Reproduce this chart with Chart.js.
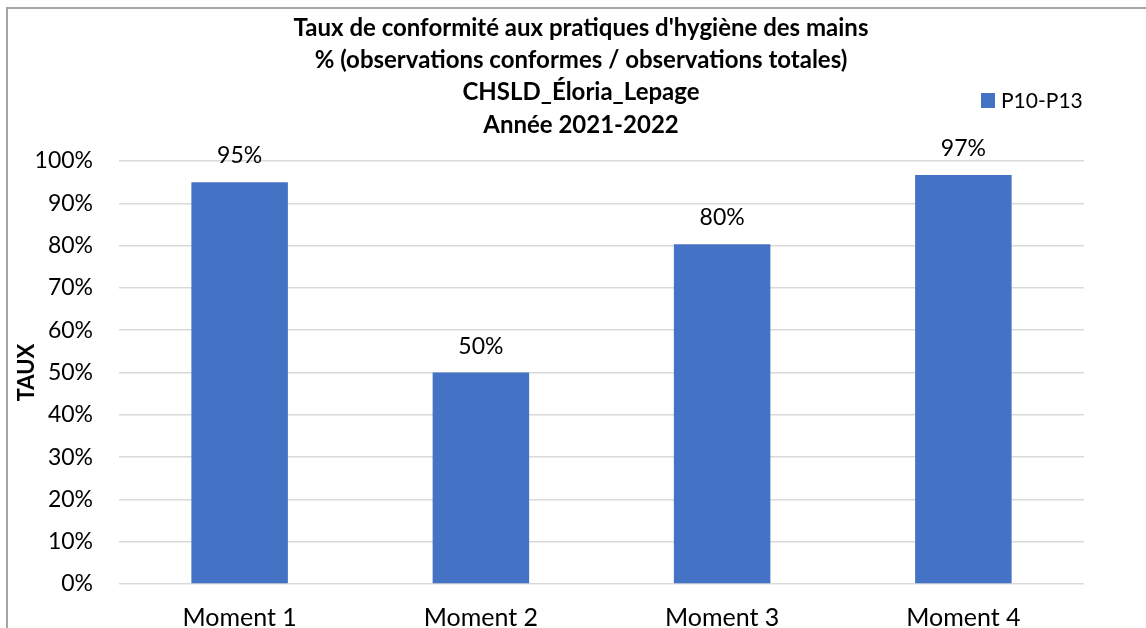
<!DOCTYPE html>
<html>
<head>
<meta charset="utf-8">
<script src="https://cdn.jsdelivr.net/npm/chart.js@4"></script>
<style>
  html, body { margin: 0; padding: 0; background: #fff; overflow: hidden; }
  #wrap { position: relative; width: 1146px; height: 628px; }
</style>
</head>
<body>
<div id="wrap"><canvas id="hygieneChart"></canvas></div>
<script>
// ===== DATA =====
const categories = ['Moment 1', 'Moment 2', 'Moment 3', 'Moment 4'];
const seriesLabel = 'P10-P13';
const tauxValues = [95, 50, 80.3, 96.7];
const titleLines = [
    "Taux de conformité aux pratiques d'hygiène des mains",
    "% (observations conformes / observations totales)",
    "CHSLD_Éloria_Lepage",
    "Année 2021-2022"
];
const yAxisTitle = 'TAUX';

const barColor = '#4472C4';
const fontFamily = 'Lato, "Open Sans", sans-serif';

// ===== PLUGINS =====

// thin frame round the chart (top + left visible)
const framePlugin = {
    id: 'frame',
    beforeDraw(chart) {
        const ctx = chart.ctx;
        ctx.save();
        ctx.strokeStyle = '#a6a6a6';
        ctx.lineWidth = 2;
        ctx.beginPath();
        ctx.moveTo(7, chart.height);
        ctx.lineTo(7, 8);
        ctx.lineTo(chart.width, 8);
        ctx.stroke();
        ctx.restore();
    }
};

// multi-line title, centred on the whole frame (not the plot area)
const frameTitle = {
    id: 'frameTitle',
    afterDraw(chart) {
        const ctx = chart.ctx;
        ctx.save();
        ctx.font = 'bold 24px ' + fontFamily;
        ctx.fillStyle = '#000';
        ctx.textAlign = 'center';
        ctx.textBaseline = 'middle';
        titleLines.forEach((line, i) => {
            ctx.fillText(line, 581, 28 + i * 32.3);
        });
        ctx.restore();
    }
};

// value labels above each bar
const valueLabels = {
    id: 'valueLabels',
    afterDatasetsDraw(chart) {
        const ctx = chart.ctx;
        const meta = chart.getDatasetMeta(0);
        ctx.save();
        ctx.font = '23px ' + fontFamily;
        ctx.fillStyle = '#000';
        ctx.textAlign = 'center';
        ctx.textBaseline = 'alphabetic';
        meta.data.forEach((bar, i) => {
            const v = chart.data.datasets[0].data[i];
            ctx.fillText(Math.round(v) + '%', bar.x, bar.y - 19);
        });
        ctx.restore();
    }
};

// legend in the top right corner
const cornerLegend = {
    id: 'cornerLegend',
    afterDraw(chart) {
        const ctx = chart.ctx;
        const ds = chart.data.datasets[0];
        ctx.save();
        ctx.fillStyle = ds.backgroundColor;
        ctx.fillRect(981, 93, 14, 15);
        ctx.font = '21px ' + fontFamily;
        ctx.fillStyle = '#000';
        ctx.textAlign = 'left';
        ctx.textBaseline = 'middle';
        ctx.fillText(ds.label, 1001, 101);
        ctx.restore();
    }
};

// ===== CHART =====
const canvas = document.getElementById('hygieneChart');
new Chart(canvas, {
    type: 'bar',
    data: {
        labels: categories,
        datasets: [{
            label: seriesLabel,
            data: tauxValues,
            backgroundColor: barColor,
            borderWidth: 0,
            categoryPercentage: 1,
            barPercentage: 0.4
        }]
    },
    options: {
        responsive: true,
        maintainAspectRatio: false,
        animation: false,
        layout: { padding: { left: 0, right: 62, top: 161, bottom: 0 } },
        plugins: {
            legend: { display: false },
            tooltip: { enabled: false },
            title: { display: false }
        },
        scales: {
            x: {
                grid: { display: false, drawTicks: false },
                border: { display: false },
                ticks: { color: '#000', font: { family: fontFamily, size: 25 }, padding: 19 },
                afterFit(scale) { scale.height = 44; }
            },
            y: {
                min: 0,
                max: 100,
                grid: { color: '#d9d9d9', lineWidth: 1.5, drawTicks: false },
                border: { display: false },
                ticks: {
                    stepSize: 10,
                    color: '#000',
                    padding: 26,
                    font: { family: fontFamily, size: 23 },
                    callback: v => v + '%'
                },
                title: {
                    display: true,
                    text: yAxisTitle,
                    color: '#000',
                    font: { family: fontFamily, size: 22, weight: 'bold' },
                    padding: { top: 14, bottom: 0 }
                },
                afterFit(scale) { scale.width = 119; }
            }
        }
    },
    plugins: [framePlugin, frameTitle, valueLabels, cornerLegend]
});
</script>
</body>
</html>
